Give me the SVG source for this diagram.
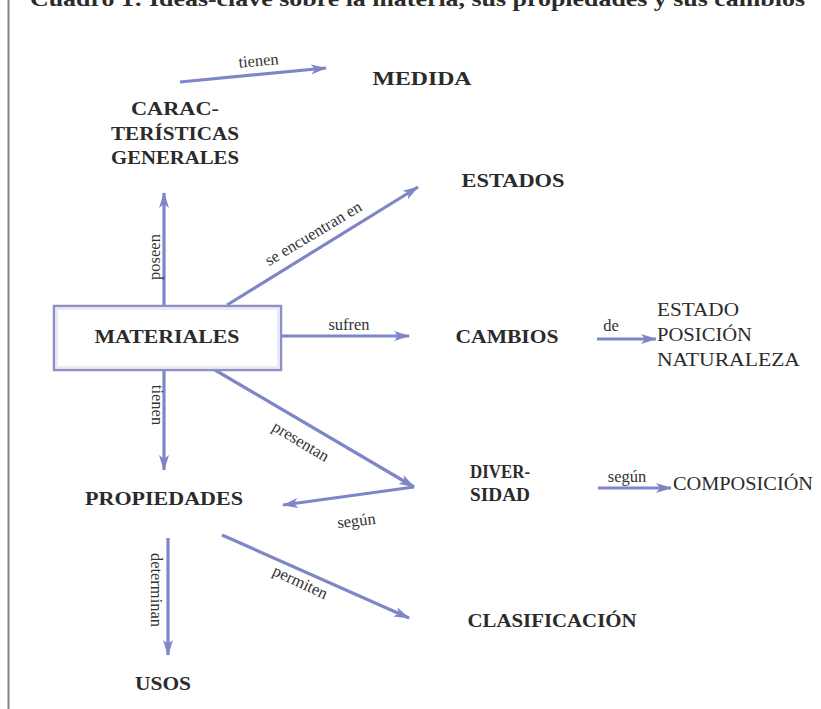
<svg xmlns="http://www.w3.org/2000/svg" width="821" height="709" viewBox="0 0 821 709">
<defs>
<style>
.n{font-family:"Liberation Serif","Times New Roman",serif;font-weight:bold;font-size:19px;fill:#2b2b2b;text-anchor:middle}
.r{font-family:"Liberation Serif","Times New Roman",serif;font-size:18px;fill:#2b2b2b}
.l{font-family:"Liberation Serif","Times New Roman",serif;font-size:16.5px;fill:#333;text-anchor:middle}
.c{stroke:#7f86c8;stroke-width:3.2;fill:none;marker-end:url(#ah)}
</style>
<marker id="ah" markerUnits="userSpaceOnUse" markerWidth="18" markerHeight="12" refX="15" refY="6" orient="auto">
<path d="M0,1 L16,6 L0,11 L4,6 Z" fill="#7f86c8"/>
</marker>
</defs>
<rect width="821" height="709" fill="#ffffff"/>
<line x1="8.5" y1="0" x2="8.5" y2="709" stroke="#8a8080" stroke-width="2"/>
<text x="30" y="6" font-family="Liberation Serif, serif" font-weight="bold" font-size="22" fill="#2b2b2b" textLength="775" lengthAdjust="spacingAndGlyphs">Cuadro 1: Ideas-clave sobre la materia, sus propiedades y sus cambios</text>

<g id="connectors">
<line class="c" x1="180" y1="82" x2="326" y2="68"/>
<line class="c" x1="164" y1="306" x2="164" y2="193"/>
<line class="c" x1="227" y1="305" x2="418" y2="187"/>
<line class="c" x1="282" y1="336" x2="409" y2="336"/>
<line class="c" x1="597" y1="339" x2="656" y2="339"/>
<line class="c" x1="164" y1="370" x2="164" y2="470"/>
<line class="c" x1="215" y1="370" x2="414" y2="487"/>
<line class="c" x1="414" y1="487" x2="283" y2="505"/>
<line class="c" x1="598" y1="488" x2="671" y2="488"/>
<line class="c" x1="168" y1="538" x2="168" y2="655"/>
<line class="c" x1="222" y1="535" x2="409" y2="618"/>
<text class="l" transform="translate(259,66) rotate(-5)">tienen</text>
<text class="l" transform="translate(160,257) rotate(-90)">poseen</text>
<text class="l" transform="translate(316,238) rotate(-31)">se encuentran en</text>
<text class="l" x="349" y="330">sufren</text>
<text class="l" x="611" y="331">de</text>
<text class="l" transform="translate(152,405) rotate(90)">tienen</text>
<text class="l" transform="translate(298,446) rotate(31)">presentan</text>
<text class="l" transform="translate(357,526) rotate(-7)">según</text>
<text class="l" x="627" y="482">según</text>
<text class="l" transform="translate(151,590) rotate(90)">determinan</text>
<text class="l" transform="translate(298,587) rotate(25)">permiten</text>
</g>

<g id="medida"><text class="n" x="422" y="85" textLength="99" lengthAdjust="spacingAndGlyphs">MEDIDA</text></g>
<g id="caracteristicas">
<text class="n" x="175" y="115" textLength="88" lengthAdjust="spacingAndGlyphs">CARAC-</text>
<text class="n" x="175" y="140" textLength="128" lengthAdjust="spacingAndGlyphs">TERÍSTICAS</text>
<text class="n" x="175" y="164" textLength="128" lengthAdjust="spacingAndGlyphs">GENERALES</text>
</g>
<g id="estados"><text class="n" x="513" y="187" textLength="103" lengthAdjust="spacingAndGlyphs">ESTADOS</text></g>
<g id="materiales">
<rect x="54" y="306" width="227" height="64" fill="none" stroke="#8e8fc4" stroke-width="2.5"/>
<rect x="57" y="309" width="221" height="58" fill="none" stroke="#d4d6ee" stroke-width="1"/>
<text class="n" x="167" y="343" textLength="145" lengthAdjust="spacingAndGlyphs">MATERIALES</text>
</g>
<g id="cambios"><text class="n" x="507" y="343" textLength="103" lengthAdjust="spacingAndGlyphs">CAMBIOS</text></g>
<g id="tipos-cambio">
<text class="r" x="657" y="316" textLength="82" lengthAdjust="spacingAndGlyphs">ESTADO</text>
<text class="r" x="657" y="341" textLength="95" lengthAdjust="spacingAndGlyphs">POSICIÓN</text>
<text class="r" x="657" y="366" textLength="143" lengthAdjust="spacingAndGlyphs">NATURALEZA</text>
</g>
<g id="propiedades"><text class="n" x="164" y="505" textLength="158" lengthAdjust="spacingAndGlyphs">PROPIEDADES</text></g>
<g id="diversidad">
<text class="n" x="500" y="478" textLength="60" lengthAdjust="spacingAndGlyphs">DIVER-</text>
<text class="n" x="500" y="501" textLength="60" lengthAdjust="spacingAndGlyphs">SIDAD</text>
</g>
<g id="composicion"><text class="r" x="673" y="490" textLength="140" lengthAdjust="spacingAndGlyphs">COMPOSICIÓN</text></g>
<g id="clasificacion"><text class="n" x="552" y="627" textLength="169" lengthAdjust="spacingAndGlyphs">CLASIFICACIÓN</text></g>
<g id="usos"><text class="n" x="163" y="690" textLength="56" lengthAdjust="spacingAndGlyphs">USOS</text></g>
</svg>
